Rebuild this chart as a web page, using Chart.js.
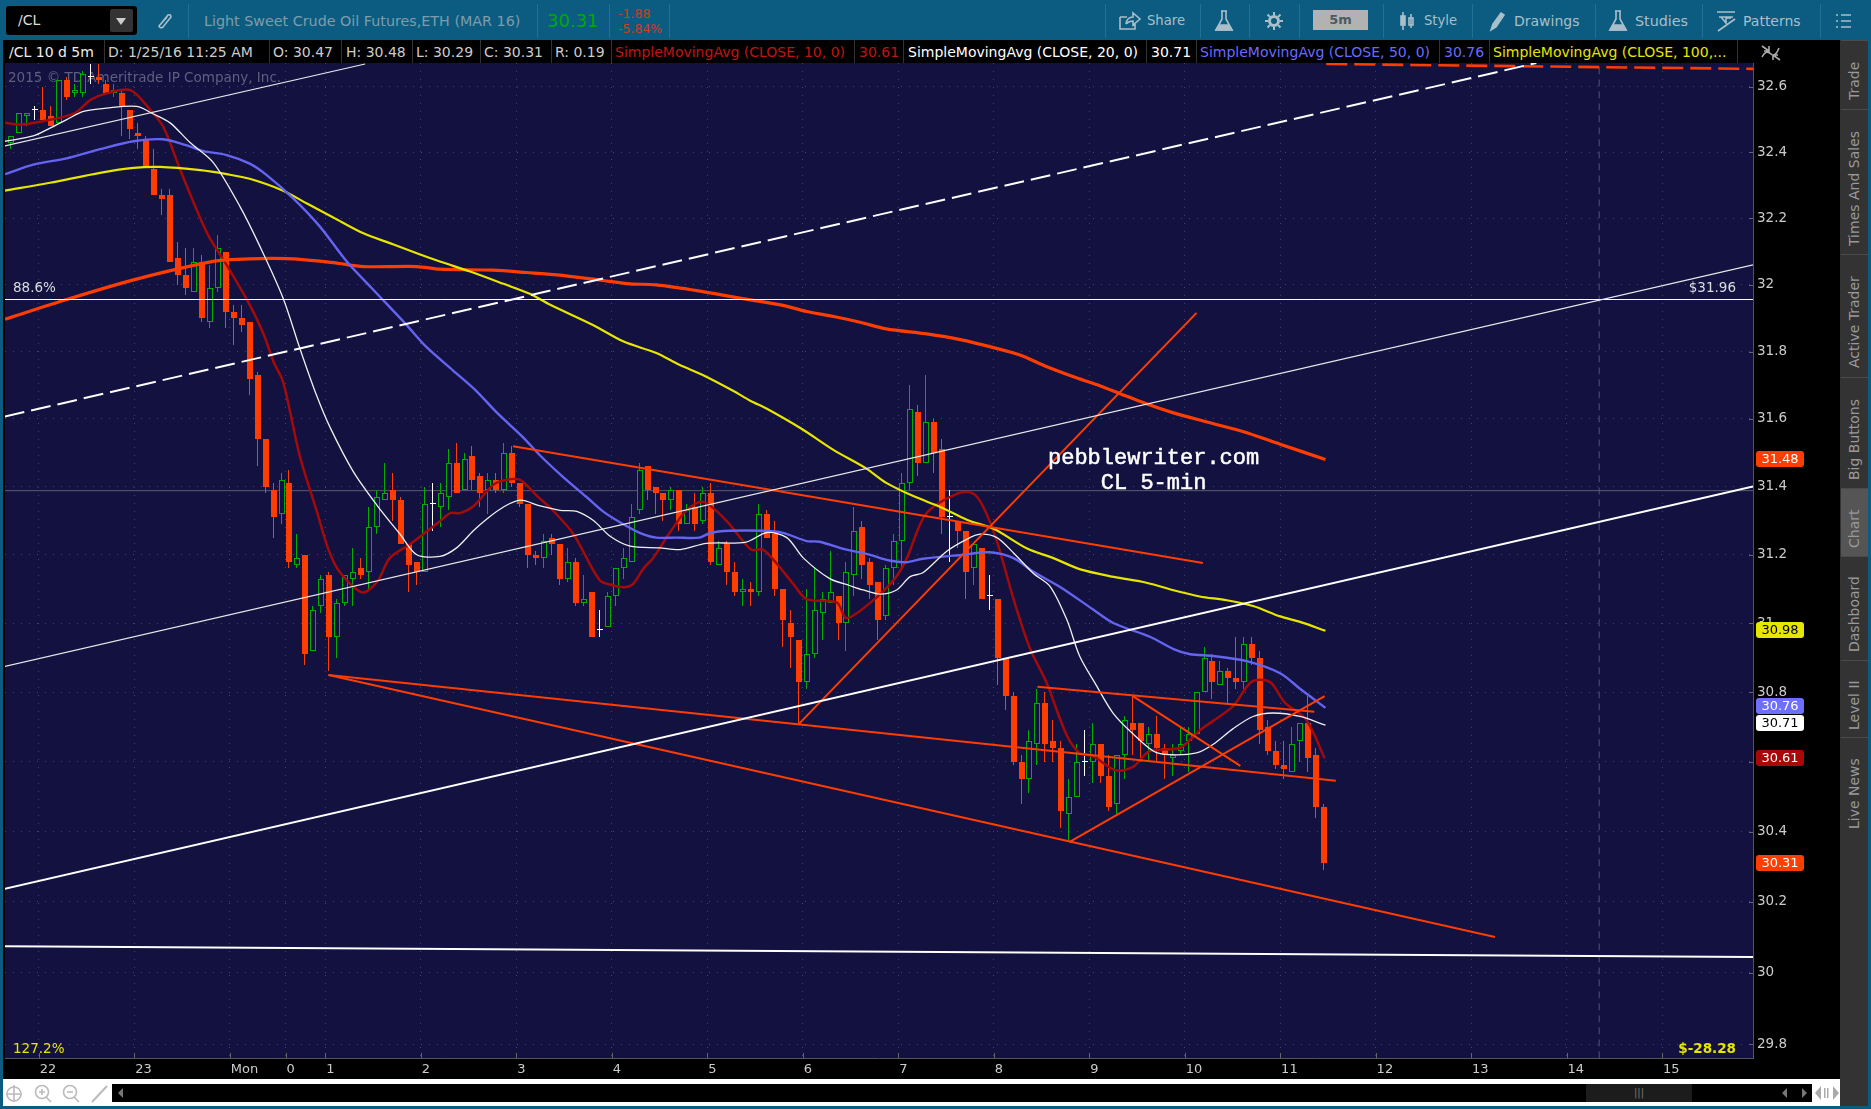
<!DOCTYPE html>
<html lang="en">
<head>
<meta charset="UTF-8">
<title>/CL 10 d 5m</title>
<script src="https://cdn.jsdelivr.net/npm/chart.js"></script>
<style>
  html, body { margin: 0; padding: 0; background: #000; overflow: hidden; }
  body { width: 1871px; height: 1109px; position: relative; font-family: "DejaVu Sans", sans-serif; }
  #chart { position: absolute; left: 0; top: 0; z-index: 2; }
  .abs { position: absolute; white-space: nowrap; }
  #toolbar { left: 0; top: 0; width: 1871px; height: 40px; background: #0b5c80; }
  .sep { position: absolute; top: 4px; width: 1px; height: 34px; background: #1f7196; }
  .tool { position: absolute; top: 13px; font-size: 14px; line-height: 16px; color: #a9bfca; }
  #sym { left: 6px; top: 6px; width: 131px; height: 29px; background: #000; border-radius: 3px; color: #ddd; font-size: 14px; line-height: 29px; text-indent: 12px; }
  #symBtn { position: absolute; left: 104px; top: 3px; width: 23px; height: 23px; background: #333; border-radius: 2px; }
  #symBtn:after { content: ""; position: absolute; left: 6px; top: 9px; border: 5px solid transparent; border-top: 7px solid #ccc; }
  #status { left: 5px; top: 40px; width: 1748px; height: 23px; background: #000; }
  #status span { position: absolute; top: 4px; font-size: 14px; line-height: 16px; color: #ccc; }
  #status i { position: absolute; top: 0; width: 1px; height: 23px; background: #333; }
  #leftEdge { left: 0; top: 0; width: 3px; height: 1109px; background: #0b5c80; }
  #bottomBar { left: 3px; top: 1079px; width: 1837px; height: 27px; background: #fff; }
  #scroll { left: 112px; top: 1084px; width: 1700px; height: 18px; background: #000; }
  #thumb { left: 1586px; top: 1084px; width: 106px; height: 18px; background: #1c1c1c; color: #777; font-size: 10px; line-height: 17px; text-align: center; }
  #bottomEdge { left: 0; top: 1106px; width: 1871px; height: 3px; background: #0b5c80; }
  #rightEdge { left: 1868px; top: 0; width: 3px; height: 1109px; background: #0b5c80; }
  #sideBg { left: 1840px; top: 40px; width: 28px; height: 1066px; background: #333; }
  .tab { position: absolute; left: 1841px; width: 27px; background: #333; border-bottom: 1px solid #4a4a4a; color: #999; font-size: 14px; writing-mode: vertical-rl; transform: rotate(180deg); text-align: center; line-height: 27px; box-sizing: border-box; padding-bottom: 12px; }
  svg.ic { position: absolute; fill: none; stroke: #a9bfca; stroke-width: 1.6; }
</style>
</head>
<body>
<div class="abs" id="toolbar">
  <div class="abs" id="sym">/CL<div id="symBtn"></div></div>
  <svg class="ic" style="left:155px;top:11px" width="20" height="20"><path d="M5 14 L13 4 Q16 3 16 6 L8 16 Q5 18 4 15 L12 6"/></svg>
  <div class="sep" style="left:188px"></div>
  <div class="tool" style="left:204px;font-size:14.3px;color:#7f9cab">Light Sweet Crude Oil Futures,ETH (MAR 16)</div>
  <div class="sep" style="left:537px"></div>
  <div class="tool" style="left:547px;top:10px;font-size:18px;line-height:22px;color:#00aa00">30.31</div>
  <div class="sep" style="left:609px"></div>
  <div class="tool" style="left:618px;top:6px;font-size:12.5px;color:#c9401c">-1.88</div>
  <div class="tool" style="left:618px;top:21px;font-size:12.5px;color:#c9401c">-5.84%</div>
  <div class="sep" style="left:669px"></div>
  <div class="sep" style="left:1105px"></div>
  <svg class="ic" style="left:1118px;top:11px" width="24" height="20"><path d="M2 6 H9 M2 6 V18 H17 V12 M8 13 Q9 6 15 6 V2 L22 8 L15 14 V10 Q11 10 8 13" /></svg>
  <div class="tool" style="left:1147px;font-size:13.2px">Share</div>
  <div class="sep" style="left:1200px"></div>
  <svg class="ic" style="left:1214px;top:9px" width="20" height="24"><path d="M7 2 H13 M8 2 V10 L2 21 H18 L12 10 V2" /><path d="M5 16 H15 L18 21 H2 Z" fill="#a9bfca"/></svg>
  <div class="sep" style="left:1249px"></div>
  <svg class="ic" style="left:1264px;top:11px" width="20" height="20"><circle cx="10" cy="10" r="4.5" stroke-width="3"/><path d="M10 1 V4 M10 16 V19 M1 10 H4 M16 10 H19 M3.5 3.5 L6 6 M14 14 L16.5 16.5 M16.5 3.5 L14 6 M6 14 L3.5 16.5" stroke-width="2"/></svg>
  <div class="sep" style="left:1299px"></div>
  <div class="abs" style="left:1313px;top:10px;width:55px;height:20px;background:#b2b2b2;color:#4d5a63;font-size:13px;font-weight:bold;line-height:20px;text-align:center">5m</div>
  <div class="sep" style="left:1383px"></div>
  <svg class="ic" style="left:1398px;top:11px" width="18" height="20"><path d="M5 1 V19 M13 3 V17"/><rect x="3" y="5" width="4" height="9" fill="#a9bfca"/><rect x="11" y="7" width="4" height="7"/></svg>
  <div class="tool" style="left:1424px;font-size:13.2px">Style</div>
  <div class="sep" style="left:1472px"></div>
  <svg class="ic" style="left:1488px;top:10px" width="18" height="22"><path d="M3 20 L5 14 L13 3 L16 5 L8 17 Z" fill="#a9bfca"/></svg>
  <div class="tool" style="left:1514px">Drawings</div>
  <div class="sep" style="left:1595px"></div>
  <svg class="ic" style="left:1608px;top:9px" width="20" height="24"><path d="M7 2 H13 M8 2 V10 L2 21 H18 L12 10 V2" /><path d="M5 16 H15 L18 21 H2 Z" fill="#a9bfca"/></svg>
  <div class="tool" style="left:1635px;font-size:14.3px">Studies</div>
  <div class="sep" style="left:1702px"></div>
  <svg class="ic" style="left:1715px;top:10px" width="22" height="22"><path d="M2 2 H20 M4 7 H18 M6 7 L11 13 L11 8 L16 8 M3 21 L20 9"/></svg>
  <div class="tool" style="left:1743px">Patterns</div>
  <div class="sep" style="left:1820px"></div>
  <svg class="ic" style="left:1835px;top:12px" width="18" height="18"><path d="M6 3 H16 M6 9 H16 M6 15 H16 M1 3 H3 M1 9 H3 M1 15 H3"/></svg>
</div>
<div class="abs" id="status">
  <span style="left:4px;color:#eee">/CL 10 d 5m</span><i style="left:99px"></i>
  <span style="left:103px">D: 1/25/16 11:25 AM</span><i style="left:264px"></i>
  <span style="left:268px">O: 30.47</span><i style="left:336px"></i>
  <span style="left:341px">H: 30.48</span><i style="left:407px"></i>
  <span style="left:411px">L: 30.29</span><i style="left:475px"></i>
  <span style="left:479px">C: 30.31</span><i style="left:546px"></i>
  <span style="left:550px">R: 0.19</span><i style="left:606px"></i>
  <span style="left:610px;color:#c01414">SimpleMovingAvg (CLOSE, 10, 0)</span><i style="left:849px"></i>
  <span style="left:854px;color:#c01414">30.61</span><i style="left:898px"></i>
  <span style="left:903px;color:#fff">SimpleMovingAvg (CLOSE, 20, 0)</span><i style="left:1141px"></i>
  <span style="left:1146px;color:#fff">30.71</span><i style="left:1191px"></i>
  <span style="left:1195px;color:#6a6aff">SimpleMovingAvg (CLOSE, 50, 0)</span><i style="left:1434px"></i>
  <span style="left:1439px;color:#6a6aff">30.76</span><i style="left:1484px"></i>
  <span style="left:1488px;color:#e6e600">SimpleMovingAvg (CLOSE, 100,...</span><i style="left:1732px"></i>
</div>
<div class="abs" id="leftEdge"></div>
<div class="abs" id="bottomBar"></div>
<div class="abs" id="scroll"></div>
<div class="abs" id="thumb">|||</div>
<div class="abs" id="bottomEdge"></div>
<div class="abs" id="rightEdge"></div>
<div class="abs" id="sideBg"></div>
<div class="tab" style="top:40px;height:69px">Trade</div>
<div class="tab" style="top:109px;height:145px">Times And Sales</div>
<div class="tab" style="top:254px;height:123px">Active Trader</div>
<div class="tab" style="top:377px;height:111px">Big Buttons</div>
<div class="tab" style="top:488px;height:68px;background:#555">Chart</div>
<div class="tab" style="top:556px;height:104px">Dashboard</div>
<div class="tab" style="top:660px;height:77px">Level II</div>
<div class="tab" style="top:737px;height:100px">Live News</div>
<svg class="ic" style="left:1760px;top:43px;stroke:#aaa" width="22" height="20"><path d="M2 3 L9 8 M9 3 V8 H4 M20 17 L13 12 M13 17 V12 H18 M2 14 Q6 6 11 11 Q15 15 19 5"/></svg>
<svg class="ic" style="left:5px;top:1084px;stroke:#bbb;z-index:3" width="110" height="19"><circle cx="9" cy="10" r="7"/><path d="M9 1 V18 M1 10 H17"/><circle cx="37" cy="8" r="6.5"/><path d="M41 13 L46 18 M34 8 H40 M37 5 V11"/><circle cx="65" cy="8" r="6.5"/><path d="M69 13 L74 18 M62 8 H68"/><path d="M87 18 L102 2" stroke-width="2"/></svg>
<svg class="ic" style="left:116px;top:1087px;stroke:none;z-index:3" width="8" height="12"><path d="M7 1 L2 6 L7 11 Z" fill="#777"/></svg>
<svg class="ic" style="left:1779px;top:1087px;stroke:none;z-index:3" width="30" height="12"><path d="M8 1 L3 6 L8 11 Z M23 1 L28 6 L23 11 Z" fill="#777"/></svg>
<svg class="ic" style="left:1814px;top:1085px;stroke:none;z-index:3" width="26" height="16"><path d="M7 1 L1 8 L7 15 Z M19 1 L25 8 L19 15 Z" fill="#aaa"/><rect x="10" y="3" width="1.5" height="10" fill="#aaa"/><rect x="13" y="3" width="1.5" height="10" fill="#aaa"/></svg>
<canvas id="chart" width="1871" height="1109"></canvas>

<script>
const opens = [
  32.43,32.46,32.51,32.53,32.53,32.51,32.49,32.62,32.58,32.58,
  32.63,32.63,32.61,32.58,32.58,32.53,32.46,32.44,32.35,32.27,
  32.27,32.08,32.03,31.98,32.07,31.89,31.99,32.10,31.92,31.90,
  31.89,31.73,31.54,31.39,31.32,31.41,31.17,31.20,30.92,31.05,
  31.14,30.96,31.06,31.13,31.16,31.15,31.28,31.36,31.39,31.36,
  31.23,31.18,31.15,31.35,31.34,31.37,31.47,31.39,31.49,31.43,
  31.39,31.42,31.39,31.50,31.41,31.35,31.20,31.19,31.25,31.23,
  31.13,31.18,31.06,31.09,30.98,30.99,31.08,31.16,31.18,31.33,
  31.46,31.40,31.38,31.36,31.39,31.29,31.34,31.30,31.38,31.17,
  31.23,31.15,31.09,31.10,31.09,31.32,31.26,31.10,31.00,30.95,
  30.83,30.91,31.03,31.06,31.08,31.00,31.14,31.28,31.18,31.12,
  31.02,31.16,31.24,31.41,31.62,31.47,31.59,31.51,31.31,31.30,
  31.27,31.16,31.22,31.08,31.07,30.90,30.79,30.60,30.55,30.65,
  30.77,30.66,30.64,30.45,30.50,30.60,30.60,30.65,30.56,30.48,
  30.62,30.71,30.71,30.65,30.68,30.64,30.61,30.63,30.66,30.68,
  30.80,30.89,30.82,30.86,30.84,30.83,30.94,30.90,30.70,30.63,
  30.59,30.57,30.66,30.71,30.62,30.47];
const highs = [
  32.45,32.52,32.52,32.54,32.60,32.54,32.62,32.63,32.61,32.65,
  32.67,32.67,32.62,32.61,32.59,32.53,32.49,32.45,32.41,32.29,
  32.29,32.13,32.11,32.11,32.09,32.06,32.15,32.10,31.94,31.94,
  31.89,31.74,31.54,31.41,31.44,31.45,31.26,31.20,31.05,31.14,
  31.15,31.07,31.14,31.22,31.19,31.34,31.39,31.47,31.44,31.37,
  31.23,31.18,31.40,31.41,31.41,31.51,31.53,31.50,31.52,31.44,
  31.44,31.44,31.53,31.52,31.41,31.35,31.21,31.26,31.26,31.23,
  31.22,31.19,31.14,31.09,31.04,31.09,31.16,31.22,31.35,31.47,
  31.46,31.40,31.38,31.40,31.39,31.35,31.38,31.40,31.41,31.24,
  31.24,31.18,31.13,31.12,31.35,31.33,31.30,31.10,31.04,30.95,
  31.10,31.16,31.09,31.21,31.08,31.18,31.34,31.30,31.19,31.12,
  31.17,31.26,31.44,31.70,31.64,31.73,31.60,31.54,31.39,31.30,
  31.27,31.23,31.22,31.14,31.07,30.90,30.80,30.62,30.69,30.81,
  30.80,30.72,30.66,30.55,30.65,30.69,30.71,30.65,30.62,30.62,
  30.73,30.79,30.71,30.70,30.73,30.65,30.65,30.70,30.70,30.80,
  30.93,30.91,30.89,30.87,30.96,30.96,30.96,30.92,30.72,30.66,
  30.66,30.70,30.71,30.79,30.64,30.48];
const lows = [
  32.41,32.46,32.48,32.50,32.50,32.48,32.49,32.56,32.57,32.57,
  32.61,32.61,32.58,32.57,32.45,32.44,32.41,32.36,32.27,32.21,
  32.07,32.00,31.97,31.98,31.89,31.87,31.98,31.87,31.82,31.86,
  31.67,31.46,31.38,31.25,31.29,31.16,31.16,30.88,30.92,31.03,
  30.86,30.90,31.05,31.05,31.13,31.10,31.26,31.36,31.30,31.23,
  31.09,31.11,31.15,31.27,31.28,31.33,31.38,31.39,31.39,31.34,
  31.32,31.38,31.38,31.40,31.34,31.16,31.17,31.16,31.20,31.11,
  31.12,31.05,31.05,30.96,30.96,30.99,31.05,31.13,31.18,31.32,
  31.36,31.32,31.30,31.33,31.27,31.29,31.27,31.29,31.17,31.17,
  31.11,31.08,31.05,31.05,31.08,31.25,31.08,30.93,30.87,30.71,
  30.81,30.90,30.95,31.06,30.95,30.92,31.08,31.13,31.07,30.95,
  31.01,31.11,31.16,31.39,31.43,31.47,31.44,31.26,31.18,31.22,
  31.07,31.11,31.07,31.04,30.82,30.75,30.59,30.48,30.51,30.59,
  30.60,30.60,30.41,30.37,30.50,30.56,30.54,30.54,30.46,30.45,
  30.55,30.62,30.60,30.60,30.60,30.55,30.56,30.62,30.57,30.74,
  30.80,30.78,30.82,30.77,30.81,30.81,30.88,30.65,30.62,30.58,
  30.55,30.57,30.60,30.57,30.44,30.29];
const closes = [
  32.45,32.52,32.52,32.53,32.50,32.48,32.62,32.57,32.59,32.64,
  32.63,32.62,32.58,32.59,32.54,32.47,32.45,32.36,32.27,32.26,
  32.07,32.03,31.99,32.07,31.90,31.99,32.11,31.92,31.90,31.88,
  31.72,31.54,31.40,31.31,31.42,31.18,31.19,30.91,31.04,31.13,
  30.96,31.06,31.14,31.15,31.14,31.28,31.37,31.38,31.36,31.23,
  31.17,31.15,31.35,31.35,31.38,31.47,31.38,31.48,31.42,31.38,
  31.42,31.39,31.50,31.41,31.35,31.20,31.19,31.24,31.23,31.13,
  31.18,31.06,31.07,30.96,30.98,31.08,31.16,31.19,31.31,31.45,
  31.39,31.38,31.36,31.39,31.29,31.33,31.29,31.38,31.18,31.22,
  31.15,31.09,31.10,31.09,31.32,31.25,31.10,31.01,30.96,30.83,
  30.91,31.04,31.07,31.09,31.00,31.15,31.27,31.17,31.11,31.01,
  31.16,31.24,31.41,31.63,31.47,31.59,31.50,31.31,31.31,31.27,
  31.15,31.23,31.07,31.08,30.90,30.79,30.60,30.55,30.66,30.77,
  30.65,30.64,30.46,30.50,30.60,30.60,30.65,30.56,30.47,30.62,
  30.72,30.69,30.66,30.68,30.64,30.62,30.62,30.65,30.68,30.80,
  30.90,30.83,30.86,30.84,30.83,30.94,30.90,30.69,30.63,30.59,
  30.58,30.65,30.71,30.61,30.47,30.31];

// moving averages at the bar numbers beside them
const sma10Bars = [-0.75,1.1,4,8,10,12,15,17.5,19.2,21.3,23.8,25,27.1,30,31.7,33,34.2,36.3,38.4,39.9,41.3,44.1,46,47.6,50.1,51.8,53.9,55.2,56.4,58.1,60.6,62.3,64,66,68.1,70.7,74,75.7,77.1,78.2,79.5,80.7,82.8,84.9,87,89.9,93,94.5,96.2,98.3,100,103.8,105,108,110.9,112.5,115,119,120.9,122.2,123.9,126,128,130.1,132.7,134.3,136,138.9,141,143.1,146.9,149.4,153.6,155.9,158.2,160.1,162.8,165.1];
const sma10 = [32.49,32.485,32.495,32.52,32.56,32.58,32.59,32.53,32.475,32.345,32.2,32.14,32.06,31.94,31.855,31.77,31.71,31.49,31.33,31.215,31.15,31.09,31.12,31.19,31.23,31.26,31.298,31.322,31.322,31.342,31.405,31.42,31.42,31.375,31.33,31.26,31.125,31.11,31.105,31.115,31.16,31.19,31.265,31.33,31.355,31.3,31.215,31.215,31.175,31.115,31.07,31.06,31.015,31.06,31.125,31.185,31.32,31.38,31.38,31.34,31.24,31.07,30.93,30.83,30.675,30.625,30.615,30.575,30.585,30.63,30.64,30.69,30.76,30.83,30.83,30.77,30.72,30.61];
const sma20Bars = [-0.75,2.8,4.9,7,9.1,12,15.8,17.9,20,22.5,25.4,28.8,31.3,34.2,36.3,38.4,40.1,43,46,48.9,51,53.9,56,58.1,59.8,61.9,64,66.5,69,71.1,73.2,75.3,77.8,81.5,84.1,87.4,92.4,95,97.5,99.6,102.9,105.4,107.1,109.2,111.3,113,114.6,117.6,120.1,121.8,123.9,126,128.5,130.6,132.7,134.3,136.4,138.5,141,143.6,145.6,149,151.1,153.6,156.1,158.6,162,165.2];
const sma20 = [32.434,32.45,32.474,32.5,32.525,32.535,32.54,32.517,32.49,32.43,32.37,32.235,32.115,31.96,31.81,31.67,31.575,31.445,31.345,31.26,31.2,31.195,31.22,31.27,31.305,31.34,31.36,31.343,31.33,31.327,31.3,31.254,31.225,31.22,31.215,31.233,31.237,31.265,31.25,31.19,31.13,31.11,31.097,31.085,31.097,31.136,31.147,31.21,31.245,31.26,31.25,31.205,31.145,31.107,31.01,30.905,30.82,30.74,30.68,30.63,30.62,30.625,30.65,30.695,30.73,30.74,30.73,30.705];
const sma50Bars = [-0.75,2.8,7,11.2,15.4,19.1,22,24.2,27.1,30,32.1,35.5,38.8,42.2,45.5,49.7,52.2,55.6,58.4,61,64.3,66.4,69.4,72.3,74.4,76.9,79.4,81.1,83.6,86.5,87.8,90.3,94.5,97,100,101.6,104.6,107.9,110.4,112.5,114.6,119.7,123,126,128.5,131.9,136,138.6,143.2,146.1,148.2,151.1,155.3,159.5,162,165.2];
const sma50 = [32.334,32.363,32.382,32.41,32.434,32.44,32.422,32.404,32.392,32.366,32.332,32.26,32.176,32.07,31.986,31.88,31.814,31.743,31.685,31.62,31.547,31.494,31.428,31.37,31.327,31.29,31.26,31.25,31.25,31.25,31.263,31.27,31.27,31.264,31.24,31.238,31.217,31.2,31.183,31.178,31.188,31.2,31.207,31.19,31.15,31.105,31.04,31.0,30.96,30.925,30.91,30.905,30.89,30.855,30.81,30.755];
const sma100Bars = [-0.75,4.9,11.2,15.4,18.7,23.8,27.1,30,34.2,37.2,40.5,44.3,48,51,53.9,57.7,61.9,65.2,67.7,73.2,77,81.1,84,87,90.8,92.9,95,99.4,103.3,107.5,110,113.4,116.8,120.2,123.5,127.7,131,134.4,138.6,142.7,146.1,149.4,152.8,156.1,159.5,162,165.2];
const sma100 = [32.284,32.308,32.338,32.353,32.356,32.346,32.334,32.32,32.284,32.245,32.203,32.155,32.122,32.095,32.07,32.04,32.003,31.973,31.941,31.879,31.83,31.796,31.761,31.73,31.683,31.654,31.63,31.57,31.509,31.453,31.411,31.372,31.34,31.302,31.276,31.218,31.19,31.157,31.135,31.118,31.096,31.078,31.067,31.05,31.02,31.004,30.978];
const sma200Bars = [-0.75,7,15.4,23.8,27,34.6,40.5,44.3,51,53.9,60.6,64.8,68.6,74.4,77.8,81.1,86.4,91.6,96.7,100,103.4,106.7,110,115.1,119.3,123.5,126.8,130.2,133.9,136.9,139.4,142.7,146.1,150.3,154.9,159.5,165.2];
const sma200 = [31.897,31.956,32.015,32.063,32.075,32.079,32.067,32.055,32.055,32.047,32.044,32.037,32.03,32.013,32.003,32.0,31.982,31.96,31.94,31.92,31.905,31.888,31.868,31.853,31.836,31.812,31.79,31.755,31.722,31.698,31.675,31.645,31.618,31.591,31.562,31.525,31.48];

// drawn trend lines, end points as bar number / price
const whiteMainBars = [-0.78,218.93], whiteMainVals = [30.237,31.4];
const whiteThinBars = [-0.78,218.93], whiteThinVals = [30.875,32.06];
const whiteTopBars = [-0.78,44.5], whiteTopVals = [32.42,32.67];
const whiteDashBars = [-0.78,191.7], whiteDashVals = [31.607,32.673];
const fibHighBars = [-0.78,218.93], fibHighVals = [31.956,31.956];
const fibMidBars = [-0.78,218.93], fibMidVals = [31.388,31.388];
const floorBars = [-0.78,218.93], floorVals = [30.075,30.044];
const redTopBars = [165.3,218.93], redTopVals = [32.67,32.655];
const vLineBars = [199.6,199.6], vLineVals = [29.76,32.68];
const channelTopBars = [63.1,149.8], channelTopVals = [31.519,31.176];
const channelMidBars = [39.9,166.5], channelMidVals = [30.85,30.545];
const channelLowBars = [39.9,186.5], channelLowVals = [30.85,30.101];
const riseBars = [99,149], riseVals = [30.708,31.916];
const boxTopBars = [129,163.8], boxTopVals = [30.816,30.744];
const boxRiseBars = [133,165.1], boxRiseVals = [30.37,30.789];
const boxFallBars = [141,154.5], boxFallVals = [30.789,30.588];

const xTickBars = [3.5,15.5,27.5,34.5,39.5,51.5,63.5,75.5,87.5,99.5,111.5,123.5,135.5,147.5,159.5,171.5,183.5,195.5,207.5];
const xTickLabels = ['22','23','Mon','0','1','2','3','4','5','6','7','8','9','10','11','12','13','14','15'];
const yTicks = [32.6,32.4,32.2,32,31.8,31.6,31.4,31.2,31,30.8,30.6,30.4,30.2,30,29.8];

// last values shown in the price column
const badgeVals = [31.48,30.98,30.76,30.71,30.61,30.31];
const badgeFill = ['#ff3d00','#e6e600','#6f6fff','#ffffff','#a80808','#ff3d00'];
const badgeText = ['#fff','#000','#fff','#000','#fff','#fff'];

const NAVY = '#121140', RED = '#ff3d00', GREEN = '#00ad00';
const FONT = '"DejaVu Sans", sans-serif';

function candleColor(i) {
  if (closes[i] > opens[i]) return GREEN;
  if (closes[i] < opens[i]) return RED;
  return '#ffffff';
}

function line(bars, vals, color, width, extra) {
  return Object.assign({
    type: 'line',
    data: bars.map((b, k) => ({ x: b, y: vals[k] })),
    borderColor: color,
    borderWidth: width,
    pointRadius: 0,
    tension: 0,
    order: 1
  }, extra || {});
}

// keep candles on whole pixels so 1px wicks and outlines stay sharp
const snapCandles = {
  id: 'snapCandles',
  afterDatasetsUpdate(chart) {
    chart.data.datasets.forEach((ds, idx) => {
      if (ds.type !== 'bar') return;
      const isWick = ds.label === 'wicks';
      chart.getDatasetMeta(idx).data.forEach(el => {
        el.x = Math.round(el.x) + (isWick ? -0.5 : 0);
        el.y = Math.round(el.y);
        el.base = Math.round(el.base);
        if (Math.abs(el.base - el.y) < 1) el.base = el.y + 1;
        el.height = el.base - el.y;
      });
    });
  }
};

const chrome = {
  id: 'chrome',
  beforeDraw(chart) {
    const { ctx, chartArea: a } = chart;
    ctx.save();
    ctx.fillStyle = NAVY;
    ctx.fillRect(a.left, a.top, a.right - a.left, a.bottom - a.top);
    ctx.restore();
  },
  beforeDatasetsDraw(chart) {
    const { ctx, chartArea: a } = chart;
    ctx.save();
    ctx.font = '13.5px ' + FONT;
    ctx.fillStyle = '#5f5f80';
    ctx.textBaseline = 'middle';
    ctx.fillText('2015 © TD Ameritrade IP Company, Inc.', a.left + 3, a.top + 15);
    // short inner tick marks
    ctx.strokeStyle = '#666';
    ctx.lineWidth = 1;
    chart.scales.y.ticks.forEach(t => {
      const y = Math.round(chart.scales.y.getPixelForValue(t.value)) + 0.5;
      ctx.beginPath(); ctx.moveTo(a.right - 4, y); ctx.lineTo(a.right, y); ctx.stroke();
    });
    chart.scales.x.ticks.forEach(t => {
      const x = Math.round(chart.scales.x.getPixelForValue(t.value)) + 0.5;
      ctx.beginPath(); ctx.moveTo(x, a.bottom - 5); ctx.lineTo(x, a.bottom); ctx.stroke();
    });
    ctx.restore();
  },
  afterDraw(chart) {
    const { ctx, chartArea: a, scales: { x, y } } = chart;
    ctx.save();
    ctx.textBaseline = 'middle';
    ctx.font = '13.5px ' + FONT;
    ctx.fillStyle = '#dddddd';
    ctx.textAlign = 'left';
    ctx.fillText('88.6%', a.left + 8, y.getPixelForValue(31.956) - 11);
    ctx.textAlign = 'right';
    ctx.fillText('$31.96', a.right - 17, y.getPixelForValue(31.956) - 11);
    ctx.fillStyle = '#e6e600';
    ctx.textAlign = 'left';
    ctx.fillText('127.2%', a.left + 8, a.bottom - 9);
    ctx.font = 'bold 13.5px ' + FONT;
    ctx.textAlign = 'right';
    ctx.fillText('$-28.28', a.right - 17, a.bottom - 9);
    ctx.font = '22px "Liberation Mono", monospace';
    ctx.fillStyle = '#ffffff';
    ctx.strokeStyle = '#ffffff';
    ctx.lineWidth = 0.5;
    ctx.textAlign = 'center';
    [['pebblewriter.com', 31.485], ['CL 5-min', 31.41]].forEach(([txt, price]) => {
      ctx.fillText(txt, x.getPixelForValue(143.6), y.getPixelForValue(price));
      ctx.strokeText(txt, x.getPixelForValue(143.6), y.getPixelForValue(price));
    });
    // price badges
    ctx.font = '13px ' + FONT;
    badgeVals.forEach((v, k) => {
      const py = y.getPixelForValue(v);
      ctx.fillStyle = badgeFill[k];
      ctx.beginPath();
      ctx.roundRect(a.right + 3, Math.round(py) - 8, 48, 16, 3);
      ctx.fill();
      ctx.fillStyle = badgeText[k];
      ctx.textAlign = 'center';
      ctx.fillText(v.toFixed(2), a.right + 27, py + 0.5);
    });
    ctx.restore();
  }
};

new Chart(document.getElementById('chart'), {
  type: 'bar',
  plugins: [chrome, snapCandles],
  data: {
    datasets: [
      line(sma10Bars, sma10, '#a30a0a', 2.5, { tension: 0.3, order: 4 }),
      line(sma20Bars, sma20, '#f0f0f0', 1.3, { tension: 0.3, order: 3 }),
      line(sma50Bars, sma50, '#6464f0', 2.4, { tension: 0.3, order: 3 }),
      line(sma100Bars, sma100, '#e6e600', 2.2, { tension: 0.3, order: 3 }),
      line(sma200Bars, sma200, '#ff3d00', 3.2, { tension: 0.3, order: 3 }),
      line(whiteMainBars, whiteMainVals, '#ffffff', 2),
      line(whiteThinBars, whiteThinVals, '#e8e8e8', 1.2),
      line(whiteTopBars, whiteTopVals, '#e8e8e8', 1.2),
      line(whiteDashBars, whiteDashVals, '#ffffff', 2, { borderDash: [20, 7] }),
      line(fibHighBars, fibHighVals, '#ffffff', 1),
      line(fibMidBars, fibMidVals, '#5c5c6c', 1, { order: 9 }),
      line(floorBars, floorVals, '#ffffff', 2),
      line(redTopBars, redTopVals, RED, 2.6, { borderDash: [21, 7] }),
      line(vLineBars, vLineVals, '#55556c', 1, { borderDash: [7, 5], order: 9 }),
      line(channelTopBars, channelTopVals, RED, 2),
      line(channelMidBars, channelMidVals, RED, 2),
      line(channelLowBars, channelLowVals, RED, 2),
      line(riseBars, riseVals, RED, 2),
      line(boxTopBars, boxTopVals, RED, 2),
      line(boxRiseBars, boxRiseVals, RED, 2),
      line(boxFallBars, boxFallVals, RED, 2),
      {
        type: 'bar',
        label: 'bodies',
        data: closes.map((c, i) => ({ x: i, y: [opens[i], c] })),
        backgroundColor: ctx => closes[ctx.dataIndex] > opens[ctx.dataIndex] ? NAVY : candleColor(ctx.dataIndex),
        borderColor: ctx => candleColor(ctx.dataIndex),
        borderWidth: ctx => closes[ctx.dataIndex] > opens[ctx.dataIndex] ? 1 : 0,
        borderSkipped: false,
        inflateAmount: 0,
        minBarLength: 1,
        grouped: false,
        barPercentage: 1,
        categoryPercentage: 1,
        maxBarThickness: 6,
        order: 6
      },
      {
        type: 'bar',
        label: 'wicks',
        data: closes.map((c, i) => ({ x: i, y: [lows[i], highs[i]] })),
        backgroundColor: ctx => candleColor(ctx.dataIndex),
        borderWidth: 0,
        inflateAmount: 0,
        grouped: false,
        barPercentage: 1,
        categoryPercentage: 1,
        maxBarThickness: 1,
        order: 7
      }
    ]
  },
  options: {
    responsive: false,
    devicePixelRatio: 1,
    animation: false,
    events: [],
    layout: { padding: { left: 5, top: 63, right: 0, bottom: 0 } },
    plugins: { legend: { display: false }, tooltip: { enabled: false } },
    scales: {
      x: {
        type: 'linear',
        offset: false,
        min: -0.754,
        max: 218.93,
        afterBuildTicks: s => { s.ticks = xTickBars.map(v => ({ value: v })); },
        afterFit: s => { s.height = 51; },
        grid: { color: '#44445f', drawTicks: false, offset: false },
        border: { color: '#555', dash: [1, 7] },
        ticks: {
          autoSkip: false,
          maxRotation: 0,
          align: 'start',
          labelOffset: 1,
          padding: 4,
          color: '#cccccc',
          font: { family: FONT, size: 13 },
          callback: (v, i) => xTickLabels[i]
        }
      },
      y: {
        type: 'logarithmic',
        position: 'right',
        min: 29.761,
        max: 32.673,
        afterBuildTicks: s => { s.ticks = yTicks.map(v => ({ value: v })); },
        afterFit: s => { s.width = 118; },
        grid: { color: '#44445f', drawTicks: false },
        border: { color: '#555', dash: [1, 7] },
        ticks: {
          autoSkip: false,
          padding: 4,
          color: '#cccccc',
          font: { family: FONT, size: 13.5 },
          callback: v => String(v)
        }
      }
    }
  }
});
</script>
</body>
</html>
